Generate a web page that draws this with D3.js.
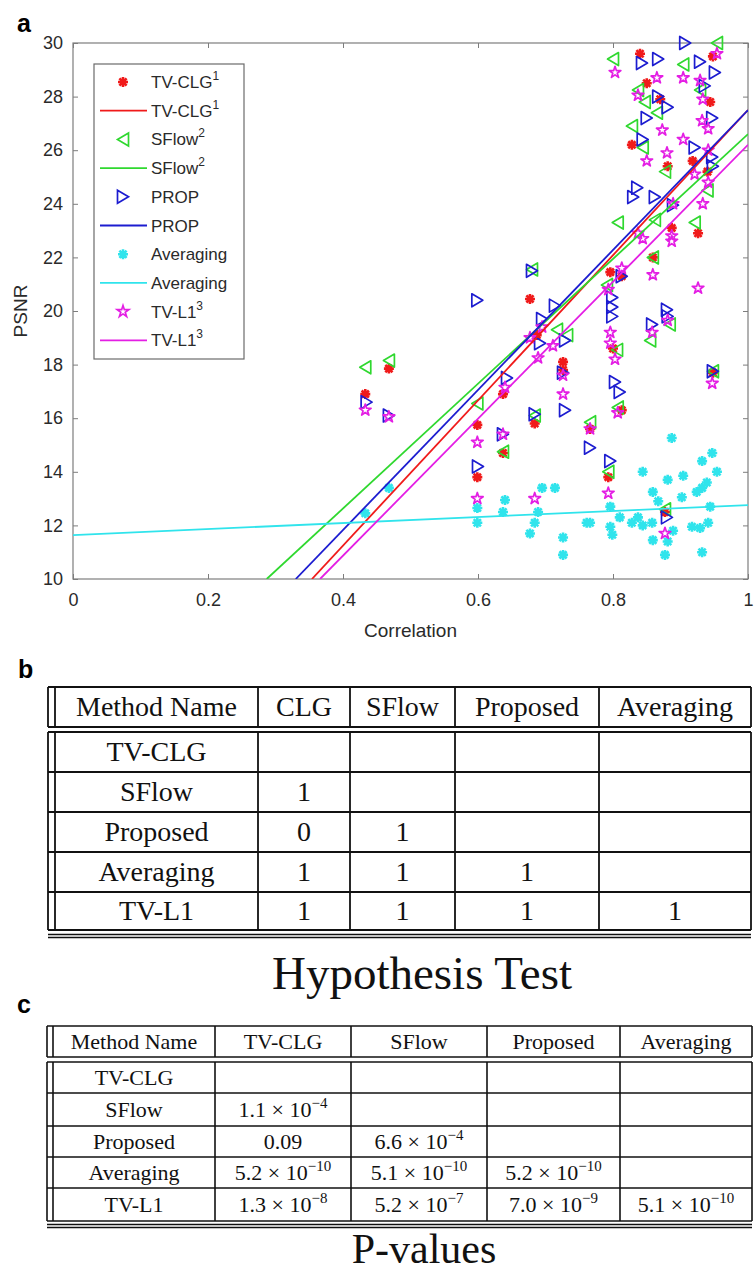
<!DOCTYPE html>
<html>
<head>
<meta charset="utf-8">
<script src="https://cdn.jsdelivr.net/npm/d3@7"></script>
<style>
body { margin: 0; background: #fff; }
svg text { font-family: "Liberation Sans", Arial, sans-serif; }
.tbl text { font-family: "Liberation Serif", "Times New Roman", serif; fill: #111; }
</style>
</head>
<body>
<svg id="fig" width="754" height="1275"></svg>
<script>
// ---- panel a data ----
const seriesNames = ['TV-CLG', 'SFlow', 'PROP', 'Averaging', 'TV-L1'];
const seriesSup = ['1', '2', '', '', '3'];
const seriesColors = ['#f01a1a', '#2fd82f', '#1c1cd0', '#30e4ec', '#e41ee4'];
const seriesMarkers = ['asterisk', 'triLeft', 'triRight', 'asterisk', 'star'];

const tvclgPoints = [[0.433,16.9],[0.468,17.85],[0.599,15.75],[0.599,13.8],[0.637,16.9],[0.637,14.7],[0.677,20.45],
  [0.684,15.8],[0.687,19.1],[0.726,18.1],[0.726,17.8],[0.766,15.6],[0.796,21.45],[0.8,18.6],[0.793,13.8],[0.813,16.3],
  [0.813,21.3],[0.84,29.6],[0.828,26.2],[0.85,28.5],[0.87,27.9],[0.859,22.0],[0.881,25.4],[0.887,23.1],[0.918,25.6],
  [0.926,22.9],[0.944,27.8],[0.948,29.5],[0.948,17.7],[0.877,12.5],[0.94,25.2]];
const sflowPoints = [[0.433,17.9],[0.468,18.15],[0.599,16.55],[0.637,14.75],[0.68,21.55],[0.684,16.1],[0.717,19.3],
  [0.732,19.1],[0.766,15.85],[0.791,20.97],[0.793,14.0],[0.806,18.55],[0.807,16.4],[0.807,23.3],[0.80,29.4],[0.828,26.9],
  [0.837,28.25],[0.847,27.8],[0.844,26.1],[0.855,18.9],[0.859,22.0],[0.862,23.4],[0.865,27.4],[0.877,25.2],[0.877,12.6],
  [0.884,19.5],[0.904,29.2],[0.921,23.3],[0.929,28.25],[0.954,30.0],[0.948,17.75],[0.94,24.5]];
const propPoints = [[0.435,16.6],[0.468,16.1],[0.599,20.4],[0.6,14.2],[0.643,17.5],[0.637,15.4],[0.68,21.5],[0.684,16.15],
  [0.695,19.7],[0.692,18.8],[0.714,20.2],[0.729,18.9],[0.726,17.7],[0.729,16.3],[0.766,14.9],[0.796,14.4],[0.799,20.5],
  [0.799,20.15],[0.799,19.8],[0.803,17.35],[0.81,16.98],[0.813,21.3],[0.83,24.25],[0.836,24.6],[0.843,29.25],[0.844,26.4],
  [0.85,27.2],[0.858,19.5],[0.862,24.25],[0.867,29.4],[0.867,28.0],[0.88,20.05],[0.881,19.8],[0.881,27.6],[0.88,12.3],
  [0.889,23.95],[0.907,30.0],[0.921,26.1],[0.929,29.3],[0.936,28.4],[0.947,27.2],[0.947,25.75],[0.948,25.4],[0.951,28.9],
  [0.948,17.75]];
const averagingPoints = [[0.433,12.45],[0.468,13.4],[0.599,12.65],[0.599,12.1],[0.637,12.5],[0.64,12.95],[0.677,11.7],
  [0.684,12.1],[0.689,12.5],[0.695,13.4],[0.714,13.4],[0.726,11.55],[0.726,10.9],[0.761,12.1],[0.766,12.1],[0.796,12.7],
  [0.796,11.95],[0.799,11.65],[0.81,12.3],[0.828,12.1],[0.837,12.3],[0.844,12.0],[0.844,14.0],[0.858,12.1],[0.859,13.25],
  [0.859,11.45],[0.867,12.9],[0.877,10.9],[0.881,13.7],[0.881,11.4],[0.887,15.26],[0.889,11.8],[0.902,13.05],[0.904,13.85],
  [0.917,11.95],[0.924,13.25],[0.929,11.9],[0.932,14.4],[0.932,13.4],[0.932,11.0],[0.939,13.6],[0.941,12.1],[0.944,12.7],
  [0.947,14.7],[0.954,14.0]];
const tvl1Points = [[0.433,16.3],[0.468,16.05],[0.599,15.1],[0.599,13.0],[0.64,17.15],[0.637,15.4],[0.677,19.0],[0.684,13.0],
  [0.689,18.25],[0.695,19.4],[0.711,18.7],[0.726,17.6],[0.726,16.9],[0.766,15.6],[0.793,20.8],[0.796,19.2],[0.796,18.8],
  [0.803,18.2],[0.793,13.2],[0.807,16.2],[0.813,21.6],[0.803,28.9],[0.837,28.05],[0.837,22.9],[0.844,22.7],[0.85,25.6],
  [0.858,19.2],[0.859,21.35],[0.865,28.7],[0.873,26.75],[0.877,11.7],[0.88,25.9],[0.881,19.65],[0.887,22.8],[0.887,22.6],
  [0.889,24.0],[0.904,28.7],[0.904,26.4],[0.921,25.1],[0.926,20.85],[0.929,28.6],[0.932,27.1],[0.933,27.9],[0.933,24.0],
  [0.941,26.8],[0.941,26.0],[0.941,24.8],[0.947,17.3],[0.954,29.6]];
const allPoints = [tvclgPoints, sflowPoints, propPoints, averagingPoints, tvl1Points];

// least-squares lines as drawn (start / end points)
const fitStart = [[0.354,10],[0.287,10],[0.330,10],[0,11.64],[0.366,10]];
const fitEnd = [[1,27.5],[1,26.6],[1,27.5],[1,12.76],[1,26.2]];

const xTicks = [0, 0.2, 0.4, 0.6, 0.8, 1];
const yTicks = [10, 12, 14, 16, 18, 20, 22, 24, 26, 28, 30];

// ---- panel b / c data ----
const hypHeader = ['Method Name', 'CLG', 'SFlow', 'Proposed', 'Averaging'];
const hypRowNames = ['TV-CLG', 'SFlow', 'Proposed', 'Averaging', 'TV-L1'];
const hypValues = [['','','',''],['1','','',''],['0','1','',''],['1','1','1',''],['1','1','1','1']];

const pHeader = ['Method Name', 'TV-CLG', 'SFlow', 'Proposed', 'Averaging'];
const pRowNames = ['TV-CLG', 'SFlow', 'Proposed', 'Averaging', 'TV-L1'];
const pValues = [['','','',''],['1.1e-4','','',''],['0.09','6.6e-4','',''],
  ['5.2e-10','5.1e-10','5.2e-10',''],['1.3e-8','5.2e-7','7.0e-9','5.1e-10']];

const svg = d3.select('#fig');
svg.append('rect').attr('width', 754).attr('height', 1275).attr('fill', '#fff');

function panelLabel(t, x, y) {
    svg.append('text').attr('x', x).attr('y', y)
        .attr('font-size', 25).attr('font-weight', 'bold').attr('fill', '#000').text(t);
}
panelLabel('a', 17, 32);
panelLabel('b', 18, 678);
panelLabel('c', 17, 1013);

// ---------------- panel a ----------------
const plot = {left: 73, right: 748, top: 43, bottom: 579};
const x = d3.scaleLinear().domain([0, 1]).range([plot.left, plot.right]);
const y = d3.scaleLinear().domain([10, 30]).range([plot.bottom, plot.top]);

svg.append('defs').append('clipPath').attr('id', 'plotclip')
    .append('rect')
        .attr('x', plot.left).attr('y', plot.top - 8)
        .attr('width', plot.right - plot.left + 8).attr('height', plot.bottom - plot.top + 8);
svg.append('defs').append('clipPath').attr('id', 'lineclip')
    .append('rect')
        .attr('x', plot.left).attr('y', plot.top)
        .attr('width', plot.right - plot.left).attr('height', plot.bottom - plot.top);

const axisColor = '#7d7d7d';
const tickText = '#2a2a2a';

function styleAxis(g) {
    g.select('.domain').remove();
    g.selectAll('.tick line').attr('stroke', axisColor);
    g.selectAll('.tick text').attr('fill', tickText).attr('font-size', 18)
        .attr('font-family', '"Liberation Sans", Arial, sans-serif');
}

svg.append('g')
    .attr('transform', `translate(0, ${plot.bottom})`)
    .call(d3.axisBottom(x).tickValues(xTicks).tickSize(-5).tickPadding(14).tickFormat(d3.format('')))
    .call(styleAxis);
svg.append('g')
    .attr('transform', `translate(0, ${plot.top})`)
    .call(d3.axisTop(x).tickValues(xTicks).tickSize(-5).tickFormat(''))
    .call(styleAxis);
svg.append('g')
    .attr('transform', `translate(${plot.left}, 0)`)
    .call(d3.axisLeft(y).tickValues(yTicks).tickSize(-5).tickPadding(10))
    .call(styleAxis);
svg.append('g')
    .attr('transform', `translate(${plot.right}, 0)`)
    .call(d3.axisRight(y).tickValues(yTicks).tickSize(-5).tickFormat(''))
    .call(styleAxis);

svg.append('rect')
    .attr('x', plot.left).attr('y', plot.top)
    .attr('width', plot.right - plot.left).attr('height', plot.bottom - plot.top)
    .attr('fill', 'none').attr('stroke', axisColor).attr('stroke-width', 1.2);

svg.append('text')
    .attr('x', (plot.left + plot.right) / 2).attr('y', 637)
    .attr('text-anchor', 'middle').attr('font-size', 19).attr('fill', tickText)
    .text('Correlation');
svg.append('text')
    .attr('transform', `translate(27, ${(plot.top + plot.bottom) / 2}) rotate(-90)`)
    .attr('text-anchor', 'middle').attr('font-size', 19).attr('fill', tickText)
    .text('PSNR');

function markerPath(type) {
    if (type === 'asterisk') return 'M-5,0H5M0,-5V5M-3.6,-3.6L3.6,3.6M-3.6,3.6L3.6,-3.6';
    if (type === 'triLeft') return 'M-5.5,0L5.5,-6.5L5.5,6.5Z';
    if (type === 'triRight') return 'M5.5,0L-5.5,-6.5L-5.5,6.5Z';
    return d3.symbol(d3.symbolStar, 42)();
}

const dataLayer = svg.append('g').attr('clip-path', 'url(#plotclip)');

seriesNames.forEach((name, i) => {
    const m = seriesMarkers[i];
    dataLayer.append('g')
        .selectAll('path')
        .data(allPoints[i])
        .join('path')
            .attr('transform', d => `translate(${x(d[0])}, ${y(d[1])})`)
            .attr('d', markerPath(m))
            .attr('fill', 'none')
            .attr('stroke', seriesColors[i])
            .attr('stroke-width', m === 'asterisk' ? 2.6 : 1.7)
            .attr('stroke-linejoin', 'round');

    svg.append('line')
        .attr('clip-path', 'url(#lineclip)')
        .attr('x1', x(fitStart[i][0])).attr('y1', y(fitStart[i][1]))
        .attr('x2', x(fitEnd[i][0])).attr('y2', y(fitEnd[i][1]))
        .attr('stroke', seriesColors[i]).attr('stroke-width', 1.8);
});

// legend
const legend = {x: 94, y: 64, w: 150, h: 295};
const lg = svg.append('g');
lg.append('rect')
    .attr('x', legend.x).attr('y', legend.y).attr('width', legend.w).attr('height', legend.h)
    .attr('fill', '#fff').attr('stroke', '#6b6b6b').attr('stroke-width', 1.2);

seriesNames.forEach((name, i) => {
    [0, 1].forEach(k => {
        const ry = 82 + (i * 2 + k) * 28.7;
        if (k === 0) {
            lg.append('path')
                .attr('transform', `translate(123, ${ry})`)
                .attr('d', markerPath(seriesMarkers[i]))
                .attr('fill', 'none').attr('stroke', seriesColors[i])
                .attr('stroke-width', seriesMarkers[i] === 'asterisk' ? 2.6 : 1.7);
        } else {
            lg.append('line')
                .attr('x1', 100).attr('x2', 147).attr('y1', ry).attr('y2', ry)
                .attr('stroke', seriesColors[i]).attr('stroke-width', 1.8);
        }
        const t = lg.append('text')
            .attr('x', 151).attr('y', ry + 6)
            .attr('font-size', 17).attr('fill', tickText)
            .text(name);
        if (seriesSup[i]) {
            t.append('tspan').attr('dy', -8).attr('font-size', 12).text(seriesSup[i]);
        }
    });
});

// ---------------- tables ----------------
function drawTable(cfg) {
    const g = svg.append('g').attr('class', 'tbl');
    const stroke = '#111';
    const lineW = cfg.lineW;
    const boxes = [[cfg.headTop, cfg.headBottom], [cfg.bodyTop, cfg.rowLines[cfg.rowLines.length - 1]]];
    boxes.forEach(b => {
        [b[0], b[1]].forEach(yy => {
            g.append('line').attr('x1', cfg.outerLeft).attr('x2', cfg.cols[cfg.cols.length - 1])
                .attr('y1', yy).attr('y2', yy).attr('stroke', stroke).attr('stroke-width', lineW);
        });
        [cfg.outerLeft].concat(cfg.cols).forEach(xx => {
            g.append('line').attr('x1', xx).attr('x2', xx)
                .attr('y1', b[0]).attr('y2', b[1]).attr('stroke', stroke).attr('stroke-width', lineW);
        });
    });
    cfg.rowLines.slice(0, -1).forEach(yy => {
        g.append('line').attr('x1', cfg.outerLeft).attr('x2', cfg.cols[cfg.cols.length - 1])
            .attr('y1', yy).attr('y2', yy).attr('stroke', stroke).attr('stroke-width', lineW);
    });
    cfg.bottomDouble.forEach(yy => {
        g.append('line').attr('x1', cfg.outerLeft).attr('x2', cfg.cols[cfg.cols.length - 1])
            .attr('y1', yy).attr('y2', yy).attr('stroke', stroke).attr('stroke-width', 1.5);
    });

    const colCenter = i => (cfg.cols[i] + cfg.cols[i + 1]) / 2;
    const headMid = (cfg.headTop + cfg.headBottom) / 2;
    g.selectAll('.hd').data(cfg.header).join('text')
        .attr('x', (d, i) => colCenter(i)).attr('y', headMid + cfg.fontSize * 0.33)
        .attr('text-anchor', 'middle').attr('font-size', cfg.fontSize)
        .text(d => d);

    const rowTops = [cfg.bodyTop].concat(cfg.rowLines);
    cfg.rowNames.forEach((rn, r) => {
        const mid = (rowTops[r] + rowTops[r + 1]) / 2 + cfg.fontSize * 0.33;
        g.append('text').attr('x', colCenter(0)).attr('y', mid)
            .attr('text-anchor', 'middle').attr('font-size', cfg.fontSize).text(rn);
        cfg.values[r].forEach((v, c) => {
            if (!v) return;
            const t = g.append('text').attr('x', colCenter(c + 1)).attr('y', mid)
                .attr('text-anchor', 'middle').attr('font-size', cfg.fontSize);
            if (v.includes('e')) {
                const [mant, ex] = v.split('e');
                t.append('tspan').text(mant + ' \u00d7 10');
                t.append('tspan').attr('dy', -cfg.fontSize * 0.4).attr('font-size', cfg.fontSize * 0.68)
                    .text(ex.replace('-', '\u2212'));
            } else {
                t.text(v);
            }
        });
    });

    g.append('text')
        .attr('x', cfg.titleX).attr('y', cfg.titleY)
        .attr('text-anchor', 'middle').attr('font-size', cfg.titleSize)
        .text(cfg.title);
}

drawTable({
    header: hypHeader, rowNames: hypRowNames, values: hypValues,
    outerLeft: 48, cols: [55, 258, 350, 455, 599, 751],
    headTop: 687, headBottom: 727, bodyTop: 732,
    rowLines: [772, 812, 852, 892, 930], bottomDouble: [934.5, 937.5],
    fontSize: 28, lineW: 1.8,
    title: 'Hypothesis Test', titleX: 422, titleY: 989, titleSize: 47
});

drawTable({
    header: pHeader, rowNames: pRowNames, values: pValues,
    outerLeft: 47, cols: [53, 215, 351, 487, 620, 752],
    headTop: 1026, headBottom: 1057, bodyTop: 1062,
    rowLines: [1093, 1126, 1157, 1188, 1221], bottomDouble: [1224.5, 1227.5],
    fontSize: 22, lineW: 1.6,
    title: 'P-values', titleX: 424, titleY: 1263, titleSize: 42
});
</script>
</body>
</html>
